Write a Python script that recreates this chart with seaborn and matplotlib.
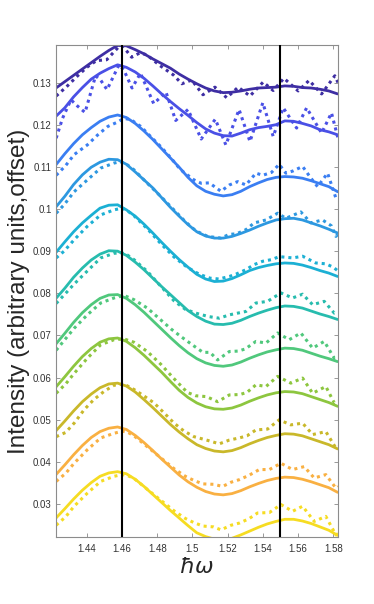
import numpy as np
import pandas as pd
import matplotlib
matplotlib.use("Agg")
import matplotlib.pyplot as plt
import seaborn as sns

# photon energy grid of the smooth (solid) curves
energy = np.linspace(1.4225, 1.5825, 33)

# solid curves, top (1) to bottom (11)
fit_1 = [0.1287, 0.1302, 0.1317, 0.1332, 0.1347, 0.1362, 0.1376, 0.1388, 0.1387, 0.1378, 0.1368,
         0.1356, 0.1345, 0.1334, 0.1320, 0.1308, 0.1297, 0.1287, 0.1280, 0.1276, 0.1277, 0.1280,
         0.1284, 0.1287, 0.1288, 0.1289, 0.1292, 0.1291, 0.1288, 0.1287, 0.1284, 0.1280, 0.1273]
fit_2 = [0.1220, 0.1240, 0.1266, 0.1288, 0.1308, 0.1322, 0.1333, 0.1342, 0.1336, 0.1325, 0.1310,
         0.1292, 0.1273, 0.1255, 0.1238, 0.1222, 0.1205, 0.1190, 0.1180, 0.1174, 0.1173, 0.1180,
         0.1188, 0.1193, 0.1196, 0.1200, 0.1209, 0.1208, 0.1203, 0.1197, 0.1188, 0.1183, 0.1176]
fit_3 = [0.1105, 0.1131, 0.1155, 0.1176, 0.1193, 0.1208, 0.1218, 0.1223, 0.1217, 0.1203, 0.1185,
         0.1165, 0.1143, 0.1121, 0.1099, 0.1075, 0.1055, 0.1042, 0.1035, 0.1031, 0.1034, 0.1042,
         0.1053, 0.1062, 0.1070, 0.1075, 0.1077, 0.1076, 0.1073, 0.1067, 0.1060, 0.1053, 0.1041]
fit_4 = [0.1005, 0.1030, 0.1058, 0.1081, 0.1099, 0.1111, 0.1118, 0.1117, 0.1106, 0.1088, 0.1069,
         0.1050, 0.1027, 0.1004, 0.0983, 0.0963, 0.0946, 0.0936, 0.0931, 0.0931, 0.0935, 0.0942,
         0.0950, 0.0959, 0.0967, 0.0974, 0.0977, 0.0978, 0.0974, 0.0967, 0.0960, 0.0952, 0.0943]
fit_5 = [0.0897, 0.0922, 0.0946, 0.0967, 0.0985, 0.1002, 0.1009, 0.1010, 0.0998, 0.0983, 0.0964,
         0.0943, 0.0921, 0.0900, 0.0880, 0.0862, 0.0845, 0.0834, 0.0828, 0.0829, 0.0835, 0.0844,
         0.0854, 0.0861, 0.0866, 0.0870, 0.0872, 0.0871, 0.0867, 0.0861, 0.0854, 0.0848, 0.0840]
fit_6 = [0.0788, 0.0812, 0.0838, 0.0860, 0.0879, 0.0893, 0.0901, 0.0900, 0.0890, 0.0874, 0.0856,
         0.0836, 0.0816, 0.0797, 0.0778, 0.0759, 0.0745, 0.0734, 0.0727, 0.0726, 0.0729, 0.0736,
         0.0745, 0.0753, 0.0760, 0.0766, 0.0770, 0.0769, 0.0765, 0.0758, 0.0751, 0.0745, 0.0738]
fit_7 = [0.0680, 0.0705, 0.0731, 0.0754, 0.0773, 0.0788, 0.0796, 0.0797, 0.0788, 0.0773, 0.0755,
         0.0735, 0.0715, 0.0695, 0.0676, 0.0659, 0.0645, 0.0635, 0.0629, 0.0627, 0.0630, 0.0637,
         0.0646, 0.0654, 0.0661, 0.0666, 0.0670, 0.0669, 0.0665, 0.0658, 0.0651, 0.0645, 0.0638]
fit_8 = [0.0578, 0.0602, 0.0627, 0.0650, 0.0669, 0.0684, 0.0692, 0.0694, 0.0686, 0.0671, 0.0653,
         0.0633, 0.0613, 0.0591, 0.0570, 0.0553, 0.0540, 0.0531, 0.0526, 0.0525, 0.0528, 0.0535,
         0.0544, 0.0552, 0.0559, 0.0564, 0.0567, 0.0566, 0.0562, 0.0555, 0.0548, 0.0541, 0.0532]
fit_9 = [0.0474, 0.0497, 0.0521, 0.0543, 0.0561, 0.0576, 0.0585, 0.0587, 0.0580, 0.0566, 0.0548,
         0.0529, 0.0509, 0.0489, 0.0471, 0.0455, 0.0441, 0.0432, 0.0426, 0.0424, 0.0427, 0.0434,
         0.0443, 0.0451, 0.0458, 0.0463, 0.0467, 0.0466, 0.0462, 0.0455, 0.0448, 0.0441, 0.0431]
fit_10 = [0.0370, 0.0393, 0.0417, 0.0439, 0.0458, 0.0472, 0.0480, 0.0483, 0.0477, 0.0463, 0.0446,
          0.0427, 0.0407, 0.0388, 0.0369, 0.0353, 0.0340, 0.0330, 0.0324, 0.0322, 0.0325, 0.0332,
          0.0341, 0.0349, 0.0356, 0.0361, 0.0364, 0.0363, 0.0359, 0.0353, 0.0346, 0.0339, 0.0328]
fit_11 = [0.0267, 0.0289, 0.0312, 0.0333, 0.0351, 0.0366, 0.0374, 0.0377, 0.0372, 0.0359, 0.0342,
          0.0323, 0.0304, 0.0285, 0.0267, 0.0249, 0.0232, 0.0223, 0.0217, 0.0215, 0.0219, 0.0227,
          0.0236, 0.0245, 0.0253, 0.0259, 0.0264, 0.0264, 0.0260, 0.0254, 0.0246, 0.0238, 0.0226]

# dotted curves (measured), (hbar omega, intensity)
meas_1 = [(1.4226, 0.1268), (1.4285, 0.1290), (1.4343, 0.1314), (1.4400, 0.1336), (1.4455, 0.1352),
          (1.4513, 0.1354), (1.4580, 0.1384), (1.4605, 0.1386), (1.4655, 0.1360), (1.4700, 0.1370),
          (1.4740, 0.1366), (1.4816, 0.1340), (1.4892, 0.1318), (1.4940, 0.1297), (1.4996, 0.1306),
          (1.5060, 0.1271), (1.5128, 0.1289), (1.5195, 0.1264), (1.5260, 0.1289), (1.5327, 0.1268),
          (1.5402, 0.1301), (1.5459, 0.1281), (1.5520, 0.1310), (1.5601, 0.1280), (1.5663, 0.1305),
          (1.5734, 0.1273), (1.5809, 0.1316), (1.5827, 0.1300)]
meas_2 = [(1.4226, 0.1168), (1.4262, 0.1215), (1.4310, 0.1259), (1.4345, 0.1245), (1.4390, 0.1229),
          (1.4450, 0.1316), (1.4480, 0.1305), (1.4515, 0.1283), (1.4583, 0.1342), (1.4610, 0.1330),
          (1.4657, 0.1287), (1.4705, 0.1322), (1.4780, 0.1250), (1.4850, 0.1277), (1.4905, 0.1210),
          (1.4975, 0.1236), (1.5050, 0.1166), (1.5130, 0.1213), (1.5190, 0.1152), (1.5265, 0.1236),
          (1.5327, 0.1160), (1.5400, 0.1252), (1.5459, 0.1172), (1.5516, 0.1240), (1.5592, 0.1192),
          (1.5649, 0.1240), (1.5734, 0.1180), (1.5790, 0.1228), (1.5827, 0.1168)]
meas_3 = [(1.4226, 0.1080), (1.4280, 0.1103), (1.4328, 0.1129), (1.4403, 0.1152), (1.4460, 0.1175),
          (1.4520, 0.1196), (1.4574, 0.1206), (1.4610, 0.1215), (1.4650, 0.1212), (1.4706, 0.1196),
          (1.4760, 0.1173), (1.4820, 0.1148), (1.4880, 0.1120), (1.4933, 0.1093), (1.5009, 0.1069),
          (1.5050, 0.1061), (1.5096, 0.1062), (1.5162, 0.1042), (1.5210, 0.1057), (1.5257, 0.1065),
          (1.5304, 0.1057), (1.5361, 0.1085), (1.5400, 0.1080), (1.5450, 0.1087), (1.5493, 0.1106),
          (1.5531, 0.1085), (1.5570, 0.1090), (1.5626, 0.1101), (1.5670, 0.1075), (1.5711, 0.1053),
          (1.5768, 0.1085), (1.5815, 0.1026), (1.5827, 0.1030)]
meas_4 = [(1.4226, 0.0990), (1.4271, 0.1010), (1.4328, 0.1041), (1.4403, 0.1069), (1.4479, 0.1097),
          (1.4555, 0.1109), (1.4590, 0.1112), (1.4620, 0.1108), (1.4668, 0.1093), (1.4744, 0.1061),
          (1.4820, 0.1030), (1.4890, 0.1000), (1.4960, 0.0970), (1.5020, 0.0948), (1.5087, 0.0935),
          (1.5162, 0.0931), (1.5210, 0.0940), (1.5250, 0.0941), (1.5304, 0.0951), (1.5351, 0.0967),
          (1.5418, 0.0974), (1.5484, 0.0990), (1.5531, 0.0978), (1.5616, 0.0993), (1.5673, 0.0967),
          (1.5739, 0.0974), (1.5790, 0.0960), (1.5815, 0.0935), (1.5827, 0.0940)]
meas_5 = [(1.4226, 0.0884), (1.4271, 0.0900), (1.4328, 0.0927), (1.4403, 0.0959), (1.4479, 0.0986),
          (1.4555, 0.0998), (1.4600, 0.1002), (1.4630, 0.0996), (1.4668, 0.0984), (1.4744, 0.0953),
          (1.4820, 0.0918), (1.4896, 0.0886), (1.4970, 0.0862), (1.5040, 0.0845), (1.5100, 0.0836),
          (1.5150, 0.0834), (1.5210, 0.0840), (1.5250, 0.0846), (1.5304, 0.0856), (1.5350, 0.0868),
          (1.5399, 0.0876), (1.5450, 0.0880), (1.5493, 0.0887), (1.5570, 0.0884), (1.5626, 0.0888),
          (1.5701, 0.0872), (1.5758, 0.0870), (1.5800, 0.0862), (1.5827, 0.0853)]
meas_6 = [(1.4226, 0.0776), (1.4271, 0.0796), (1.4328, 0.0822), (1.4403, 0.0853), (1.4479, 0.0884),
          (1.4555, 0.0895), (1.4600, 0.0896), (1.4630, 0.0891), (1.4668, 0.0880), (1.4744, 0.0852),
          (1.4820, 0.0817), (1.4896, 0.0782), (1.4960, 0.0762), (1.5020, 0.0753), (1.5090, 0.0745),
          (1.5153, 0.0741), (1.5210, 0.0749), (1.5304, 0.0757), (1.5361, 0.0777), (1.5427, 0.0781),
          (1.5503, 0.0801), (1.5569, 0.0789), (1.5626, 0.0798), (1.5683, 0.0773), (1.5749, 0.0781),
          (1.5806, 0.0753), (1.5827, 0.0756)]
meas_7 = [(1.4226, 0.0665), (1.4271, 0.0688), (1.4328, 0.0717), (1.4403, 0.0749), (1.4479, 0.0777),
          (1.4555, 0.0789), (1.4612, 0.0795), (1.4668, 0.0785), (1.4744, 0.0765), (1.4820, 0.0737),
          (1.4880, 0.0715), (1.4933, 0.0698), (1.5009, 0.0675), (1.5060, 0.0660), (1.5100, 0.0660),
          (1.5143, 0.0642), (1.5210, 0.0662), (1.5260, 0.0663), (1.5300, 0.0668), (1.5361, 0.0686),
          (1.5418, 0.0682), (1.5484, 0.0706), (1.5550, 0.0690), (1.5616, 0.0706), (1.5683, 0.0670),
          (1.5749, 0.0686), (1.5806, 0.0646), (1.5827, 0.0650)]
meas_8 = [(1.4226, 0.0563), (1.4280, 0.0585), (1.4328, 0.0610), (1.4403, 0.0646), (1.4479, 0.0678),
          (1.4555, 0.0690), (1.4610, 0.0692), (1.4668, 0.0684), (1.4744, 0.0662), (1.4820, 0.0632),
          (1.4890, 0.0600), (1.4971, 0.0565), (1.5020, 0.0557), (1.5080, 0.0555), (1.5143, 0.0543),
          (1.5210, 0.0559), (1.5270, 0.0560), (1.5310, 0.0565), (1.5361, 0.0583), (1.5418, 0.0579),
          (1.5484, 0.0603), (1.5559, 0.0587), (1.5626, 0.0599), (1.5683, 0.0563), (1.5758, 0.0579),
          (1.5806, 0.0540), (1.5827, 0.0545)]
meas_9 = [(1.4226, 0.0460), (1.4280, 0.0470), (1.4330, 0.0493), (1.4385, 0.0524), (1.4440, 0.0548),
          (1.4500, 0.0568), (1.4555, 0.0582), (1.4610, 0.0585), (1.4668, 0.0572), (1.4720, 0.0558),
          (1.4782, 0.0540), (1.4840, 0.0516), (1.4896, 0.0492), (1.4950, 0.0474), (1.5009, 0.0460),
          (1.5080, 0.0452), (1.5153, 0.0443), (1.5210, 0.0452), (1.5266, 0.0457), (1.5310, 0.0462),
          (1.5361, 0.0476), (1.5427, 0.0478), (1.5493, 0.0500), (1.5559, 0.0488), (1.5626, 0.0492),
          (1.5683, 0.0465), (1.5758, 0.0472), (1.5815, 0.0433), (1.5827, 0.0437)]
meas_10 = [(1.4226, 0.0354), (1.4280, 0.0373), (1.4328, 0.0397), (1.4403, 0.0429), (1.4479, 0.0457),
           (1.4555, 0.0468), (1.4600, 0.0473), (1.4630, 0.0471), (1.4668, 0.0462), (1.4782, 0.0423),
           (1.4896, 0.0384), (1.4960, 0.0366), (1.5009, 0.0356), (1.5060, 0.0348), (1.5120, 0.0347),
           (1.5172, 0.0342), (1.5220, 0.0352), (1.5266, 0.0358), (1.5320, 0.0368), (1.5380, 0.0382),
           (1.5437, 0.0382), (1.5503, 0.0397), (1.5569, 0.0382), (1.5635, 0.0389), (1.5692, 0.0362),
           (1.5758, 0.0370), (1.5815, 0.0338), (1.5827, 0.0342)]
meas_11 = [(1.4226, 0.0250), (1.4280, 0.0270), (1.4328, 0.0295), (1.4403, 0.0326), (1.4479, 0.0354),
           (1.4555, 0.0366), (1.4600, 0.0370), (1.4630, 0.0368), (1.4668, 0.0361), (1.4782, 0.0322),
           (1.4896, 0.0284), (1.4960, 0.0266), (1.5009, 0.0256), (1.5060, 0.0248), (1.5120, 0.0246),
           (1.5162, 0.0239), (1.5220, 0.0250), (1.5266, 0.0255), (1.5320, 0.0265), (1.5370, 0.0279),
           (1.5437, 0.0280), (1.5503, 0.0299), (1.5569, 0.0283), (1.5626, 0.0295), (1.5692, 0.0259),
           (1.5758, 0.0271), (1.5815, 0.0227), (1.5827, 0.0230)]

colors = ["#3e2ea3", "#4a50e6", "#3a7ef2", "#2d98e0", "#1cb0d4", "#27bcae",
          "#50c87c", "#8dc63f", "#c9b82a", "#f9b042", "#f6dc22"]

peaks = [1.46, 1.55]
yticks = [0.03, 0.04, 0.05, 0.06, 0.07, 0.08, 0.09, 0.10, 0.11, 0.12, 0.13]
ytick_labels = ["0.03", "0.04", "0.05", "0.06", "0.07", "0.08", "0.09", "0.1", "0.11", "0.12", "0.13"]
xticks = [1.44, 1.46, 1.48, 1.50, 1.52, 1.54, 1.56, 1.58]
xtick_labels = ["1.44", "1.46", "1.48", "1.5", "1.52", "1.54", "1.56", "1.58"]

fits = [fit_1, fit_2, fit_3, fit_4, fit_5, fit_6, fit_7, fit_8, fit_9, fit_10, fit_11]
meas = [meas_1, meas_2, meas_3, meas_4, meas_5, meas_6, meas_7, meas_8, meas_9, meas_10, meas_11]

sns.set_style("ticks")
plt.rcParams["font.family"] = ["Liberation Sans", "DejaVu Sans"]

fig = plt.figure(figsize=(3.74, 6.04), dpi=100)
ax = fig.add_axes([0.1497, 0.1109, 0.754, 0.8146])

for i in range(len(fits)):
    df = pd.DataFrame({"hw": energy, "I": fits[i]})
    sns.lineplot(data=df, x="hw", y="I", color=colors[i], lw=2.0,
                 estimator=None, sort=False, ax=ax)
    mdf = pd.DataFrame(meas[i], columns=["hw", "I"])
    sns.lineplot(data=mdf, x="hw", y="I", color=colors[i], lw=2.2,
                 linestyle=(0, (1, 1.3)), dash_capstyle="butt",
                 estimator=None, sort=False, ax=ax)

for p in peaks:
    ax.axvline(p, color="black", lw=1.5, zorder=5)

ax.set_xlim(1.4225, 1.5827)
ax.set_ylim(0.0222, 0.1389)
ax.set_xticks(xticks)
ax.set_xticklabels(xtick_labels)
ax.set_yticks(yticks)
ax.set_yticklabels(ytick_labels)
ax.tick_params(direction="in", length=3, width=0.6, top=True, right=True,
               labelsize=7, color="#888888", labelcolor="#333333", pad=3)
ax.tick_params(axis="x", pad=5)
for s in ax.spines.values():
    s.set_color("#8c8c8c")
    s.set_linewidth(0.8)

ax.set_xlabel(r"$\hbar\omega$", fontsize=16, labelpad=2)
ax.set_ylabel("Intensity (arbitrary units,offset)", fontsize=17.5)
ax.yaxis.set_label_coords(-0.092, 0.5)

fig.savefig("out.png", dpi=100)
